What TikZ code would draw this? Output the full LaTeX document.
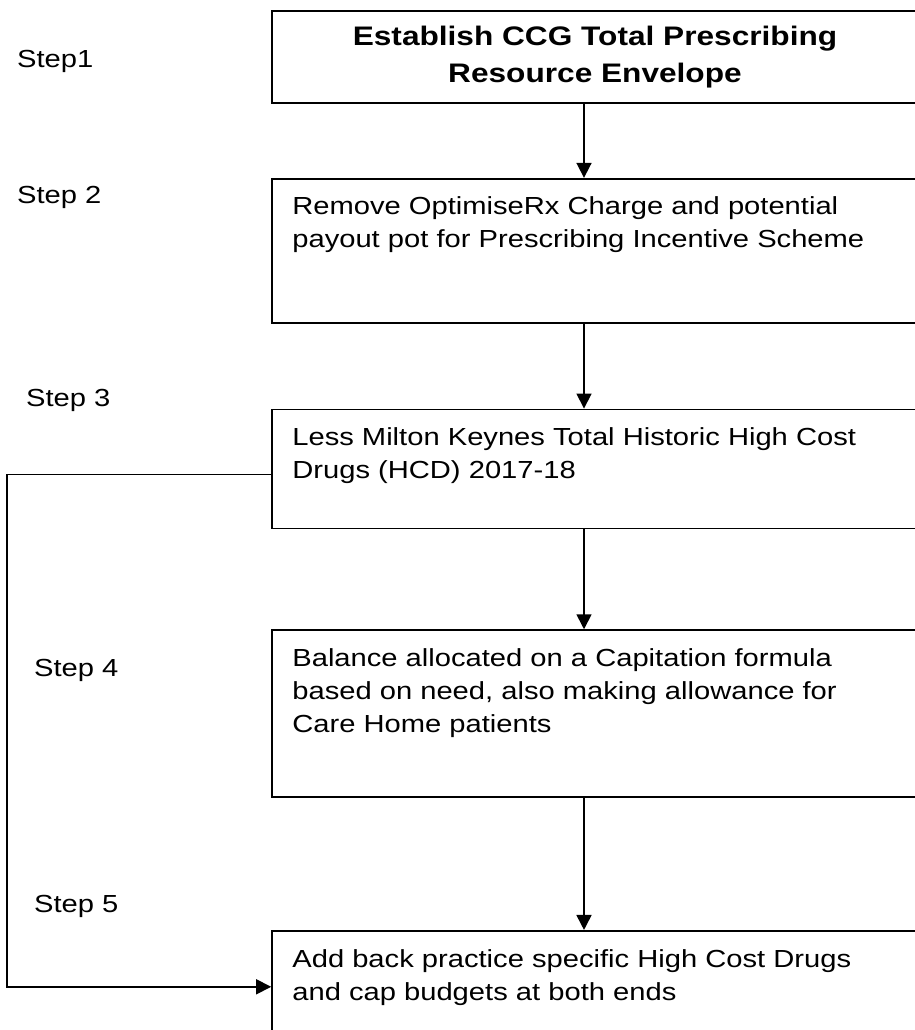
\documentclass[tikz,border=0pt]{standalone}
\usepackage{fontspec}
\setmainfont{Liberation Sans}[FakeStretch=1.18]
\usepackage{tikz}
\usetikzlibrary{positioning,arrows.meta}

\begin{document}
\begin{tikzpicture}[x=1pt,y=-1pt,
	arr/.style={-{Triangle[width=15pt,length=15pt]},line width=1.7pt},
	stepbox/.style={rectangle,draw,line width=1.7pt,minimum width=646pt,inner sep=0pt},
	boxtext/.style={anchor=north west,inner sep=0pt,align=left,font=\fontsize{24.7}{33}\selectfont},
	steplabel/.style={anchor=base west,inner sep=0pt,font=\fontsize{24.7}{33}\selectfont}]
				
				\useasboundingbox (0,0) rectangle (914,1030);
				
				\node[stepbox,minimum height=92pt,align=center,font=\bfseries\fontsize{26.8}{37}\selectfont] (b1) at (595,57) {Establish CCG Total Prescribing\\Resource Envelope};
				\node[stepbox,minimum height=144pt] (b2) [below=74pt of b1] {};
				\node[stepbox,minimum height=119pt] (b3) [below=85pt of b2] {};
				\node[stepbox,minimum height=167pt] (b4) [below=100pt of b3] {};
				\node[stepbox,minimum height=112pt] (b5) [below=132pt of b4] {};
				
				\node[boxtext] (t2) at ([shift={(21pt,-19pt)}]b2.north west) {Remove OptimiseRx Charge and potential\\payout pot for Prescribing Incentive Scheme};
				\node[boxtext] (t3) at ([shift={(21pt,-19pt)}]b3.north west) {Less Milton Keynes Total Historic High Cost\\Drugs (HCD) 2017-18};
				\node[boxtext] (t4) at ([shift={(21pt,-19pt)}]b4.north west) {Balance allocated on a Capitation formula\\based on need, also making allowance for\\Care Home patients};
				\node[boxtext] (t5) at ([shift={(21pt,-19pt)}]b5.north west) {Add back practice specific High Cost Drugs\\and cap budgets at both ends};
				
				\node[steplabel] (s1) at (17,68) {Step1};
				\node[steplabel] (s2) at (17,203) {Step 2};
				\node[steplabel] (s3) at (26,406) {Step 3};
				\node[steplabel] (s4) at (34,676) {Step 4};
				\node[steplabel] (s5) at (34,912) {Step 5};
				
				\draw[arr] ([xshift=-11pt]b1.south) -- ([xshift=-11pt]b2.north);
				\draw[arr] ([xshift=-11pt]b2.south) -- ([xshift=-11pt]b3.north);
				\draw[arr] ([xshift=-11pt]b3.south) -- ([xshift=-11pt]b4.north);
				\draw[arr] ([xshift=-11pt]b4.south) -- ([xshift=-11pt]b5.north);
				\draw[arr] ([yshift=-5.5pt]b3.west) -- ++(-264pt,0) |- (b5.west);
				
				\end{tikzpicture}
\end{document}
